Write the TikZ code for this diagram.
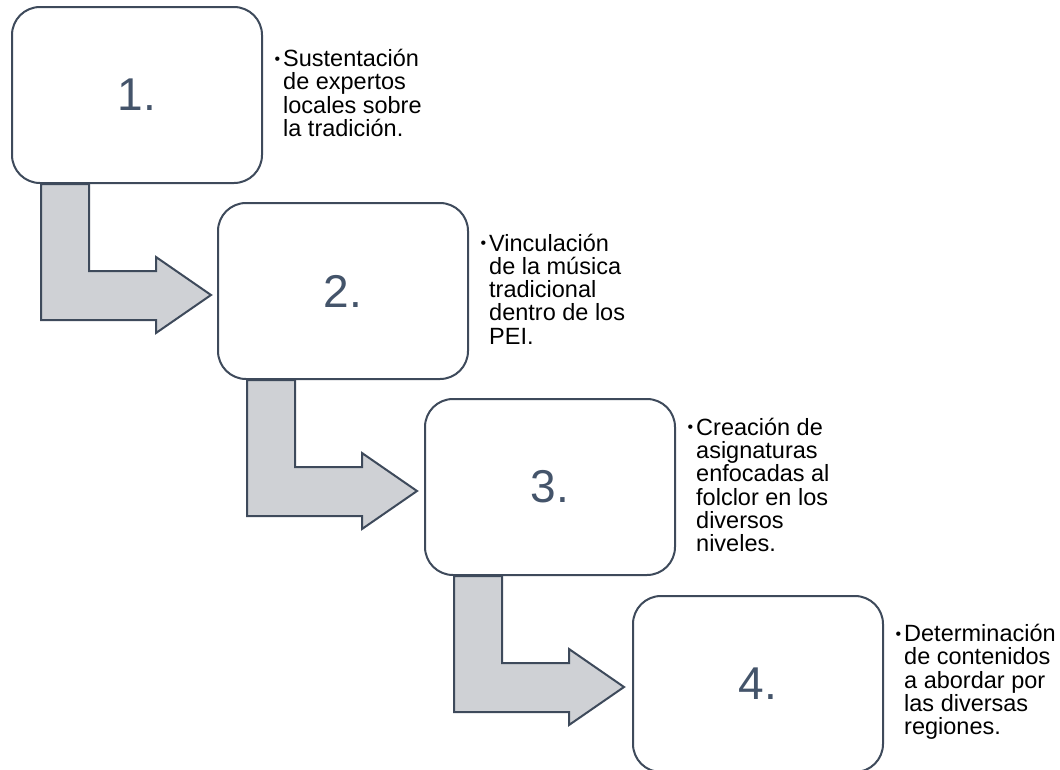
\documentclass[tikz,border=0pt]{standalone}
\usepackage{fontspec}
\setmainfont{Liberation Sans}
\usetikzlibrary{backgrounds}
\definecolor{slate}{HTML}{44546A}
\definecolor{outl}{HTML}{3E4A5B}
\definecolor{arrowfill}{HTML}{CFD1D5}
\newcommand{\bul}{\llap{\raisebox{2.5pt}{\fontsize{16}{16}\selectfont\textbullet}\hspace{3pt}}}
\tikzset{
  box/.style={draw=outl, line width=2pt, fill=white, rounded corners=28pt,
    minimum width=250pt, minimum height=176pt, inner sep=0pt,
    text=slate, font=\fontsize{46}{46}\selectfont},
  desc/.style={anchor=west, align=left, inner sep=0pt, text=black,
    font=\fontsize{23.5}{23.3}\selectfont},
  bentarrow/.style={draw=outl, line width=2pt, fill=arrowfill, line join=miter}
}
\begin{document}
\begin{tikzpicture}[x=1pt,y=-1pt]
\useasboundingbox (0,0) rectangle (1060,769);
\node[box] (b1) at (137,95) {1.};
\node[box] (b2) at (343,291) {2.};
\node[box] (b3) at (550,487) {3.};
\node[box] (b4) at (758,684) {4.};

\node[desc] (t1) at ([xshift=20pt,yshift=2pt]b1.east) {\bul Sustentación\\de expertos\\locales sobre\\la tradición.};
\node[desc] (t2) at ([xshift=20pt,yshift=2pt]b2.east) {\bul Vinculación\\de la música\\tradicional\\dentro de los\\PEI.};
\node[desc] (t3) at ([xshift=20pt,yshift=2pt]b3.east) {\bul Creación de\\asignaturas\\enfocadas al\\folclor en los\\diversos\\niveles.};
\node[desc] (t4) at ([xshift=20pt,yshift=2pt]b4.east) {\bul Determinación\\de contenidos\\a abordar por\\las diversas\\regiones.};

\begin{scope}[on background layer]
\foreach \b in {b1,b2,b3}{
  \draw[bentarrow] ([xshift=30pt]\b.south west) -- ++(0,136) -- ++(115,0) -- ++(0,13)
    -- ++(55,-38) -- ++(-55,-38) -- ++(0,14) -- ++(-67,0) -- ++(0,-87) -- cycle;
}
\end{scope}
\end{tikzpicture}
\end{document}
